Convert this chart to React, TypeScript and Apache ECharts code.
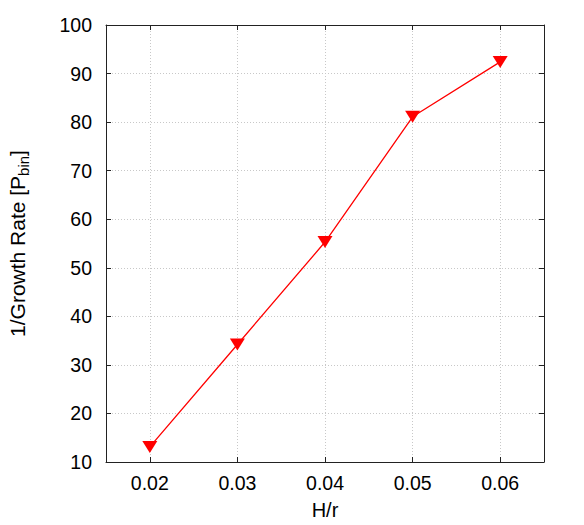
import React, { useEffect, useRef } from "react";
import * as echarts from "echarts";

const hOverR = [0.02, 0.03, 0.04, 0.05, 0.06];
const invGrowth = [13.1, 34.2, 55.3, 81.1, 92.4];
const xTicks = ["0.02", "0.03", "0.04", "0.05", "0.06"];

export default function App() {
  const ref = useRef<HTMLDivElement>(null);
  useEffect(() => {
    document.body.style.margin = "0";
    const chart = echarts.init(ref.current!, null, { renderer: "svg" });
    const font = "Liberation Sans, Arial, sans-serif";
    const axisLine = { show: true, lineStyle: { color: "#222", width: 1 } };
    const tick = { show: true, inside: true, length: 5, lineStyle: { color: "#222" } };
    const split = { show: true, lineStyle: { color: "#c8c8c8", type: [1, 2] as any, width: 1 } };
    chart.setOption({
      animation: false,
      backgroundColor: "#fff",
      grid: { left: 106, right: 40, top: 25, bottom: 63, containLabel: false, outerBoundsMode: "none" },
      xAxis: [
        {
          type: "value",
          min: 0.015,
          max: 0.065,
          interval: 0.01,
          position: "bottom",
          axisLine,
          axisTick: { ...tick, customValues: hOverR },
          splitLine: split,
          axisLabel: {
            customValues: hOverR,
            formatter: (v: number) => xTicks[Math.round((v - 0.02) * 100)] ?? "",
            color: "#000",
            fontSize: 19.5,
            fontFamily: font,
            margin: 11,
          },
          name: "H/r",
          nameLocation: "middle",
          nameGap: 38,
          nameTextStyle: { color: "#000", fontSize: 20, fontFamily: font },
        },
        {
          type: "value",
          min: 0.015,
          max: 0.065,
          position: "top",
          axisLine,
          axisTick: { ...tick, customValues: hOverR },
          splitLine: { show: false },
          axisLabel: { show: false },
        },
      ],
      yAxis: [
        {
          type: "value",
          min: 10,
          max: 100,
          interval: 10,
          position: "left",
          axisLine,
          axisTick: tick,
          splitLine: split,
          axisLabel: { color: "#000", fontSize: 19.5, fontFamily: font, margin: 14 },
          name: "1/Growth Rate [P{sub|bin}]",
          nameLocation: "middle",
          nameGap: 75,
          nameRotate: 90,
          nameTextStyle: {
            color: "#000",
            fontSize: 21,
            fontFamily: font,
            rich: {
              sub: { fontSize: 15, fontFamily: font, color: "#000", verticalAlign: "bottom", padding: [12, 0, 0, 0] },
            },
          },
        },
        {
          type: "value",
          min: 10,
          max: 100,
          interval: 10,
          position: "right",
          axisLine,
          axisTick: tick,
          splitLine: { show: false },
          axisLabel: { show: false },
        },
      ],
      series: [
        {
          type: "line",
          data: hOverR.map((x, i) => [x, invGrowth[i]]),
          xAxisIndex: 0,
          yAxisIndex: 0,
          symbol: "triangle",
          symbolRotate: 180,
          symbolSize: [15, 12],
          lineStyle: { color: "#ff0000", width: 1.3 },
          itemStyle: { color: "#ff0000" },
        },
      ],
    });
    return () => chart.dispose();
  }, []);
  return <div ref={ref} style={{ width: 584, height: 525 }} />;
}
